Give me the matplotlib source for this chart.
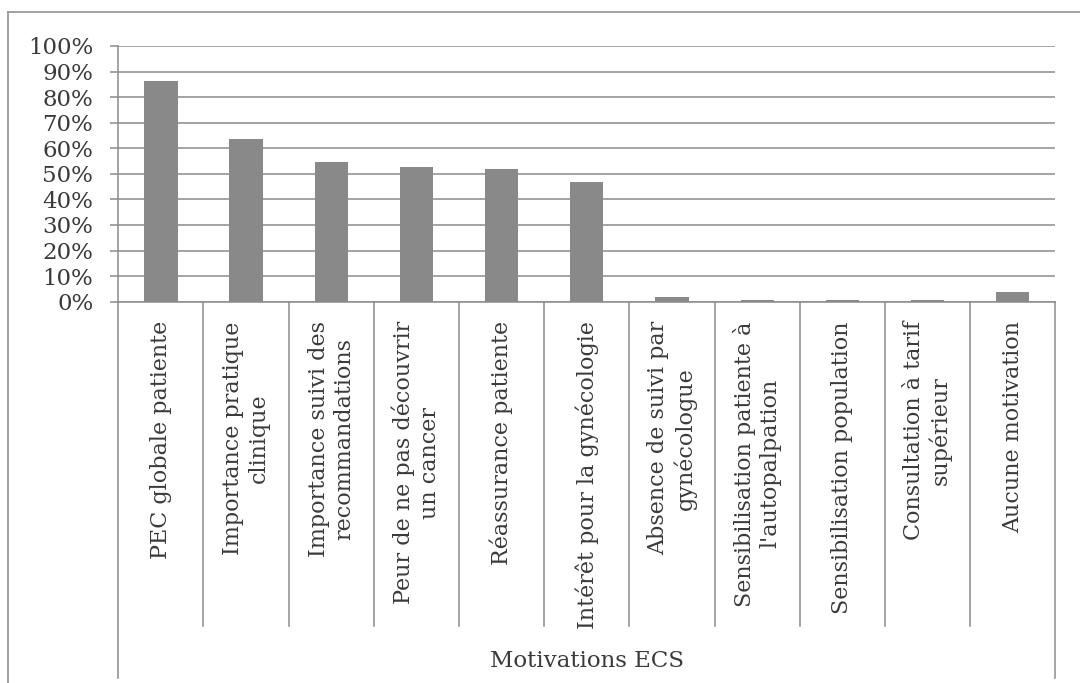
import matplotlib
matplotlib.use("Agg")
import matplotlib.pyplot as plt
import matplotlib.transforms as mtransforms
from matplotlib.lines import Line2D

categories = [
    "PEC globale patiente",
    "Importance pratique\nclinique",
    "Importance suivi des\nrecommandations",
    "Peur de ne pas découvrir\nun cancer",
    "Réassurance patiente",
    "Intérêt pour la gynécologie",
    "Absence de suivi par\ngynécologue",
    "Sensibilisation patiente à\nl'autopalpation",
    "Sensibilisation population",
    "Consultation à tarif\nsupérieur",
    "Aucune motivation",
]
values = [86.2, 63.8, 54.5, 52.6, 52.0, 46.7, 2.0, 0.6, 0.6, 0.6, 3.9]
yticks = list(range(0, 101, 10))
group_label = "Motivations ECS"

W, H = 1080, 683
line_col = "#8c8c8c"
text_col = "#3a3a3a"
font = ["DejaVu Serif"]

fig = plt.figure(figsize=(W / 100, H / 100), dpi=100)
ax = fig.add_axes([118.3 / W, 1 - 301.7 / H, (1055.3 - 118.3) / W, (301.7 - 46) / H])

x = list(range(len(categories)))
ax.bar(x, values, width=0.39, color="#898989", zorder=3)

ax.set_xlim(-0.5, len(categories) - 0.5)
ax.set_ylim(0, 100)
ax.set_yticks(yticks)
ax.set_yticklabels([f"{t}%" for t in yticks], family=font, fontsize=16.5, color=text_col)
ax.yaxis.grid(True, color=line_col, linewidth=1.1, zorder=0)
ax.tick_params(axis="y", length=6, width=1.1, color=line_col, pad=12)

ax.set_xticks(x)
ax.set_xticklabels(categories, rotation=90, family=font, fontsize=16,
                   color=text_col, ha="center", va="top")
ax.tick_params(axis="x", length=0, pad=14)

for side in ["top", "right"]:
    ax.spines[side].set_visible(False)
for side in ["left", "bottom"]:
    ax.spines[side].set_color(line_col)
    ax.spines[side].set_linewidth(1.1)

# category separators below the axis
trans = mtransforms.blended_transform_factory(ax.transData, fig.transFigure)
y_axis = 1 - 301.7 / H
y_inner = 1 - 625.5 / H
y_outer = 1 - 678 / H
n = len(categories)
for i in range(n + 1):
    xb = i - 0.5
    y_end = y_outer if i in (0, n) else y_inner
    fig.add_artist(Line2D([xb, xb], [y_axis, y_end], transform=trans,
                          color=line_col, linewidth=1.1))

fig.text(587 / W, 1 - 661 / H, group_label, family=font, fontsize=16.5,
         color=text_col, ha="center", va="center")

# outer chart frame
fig.add_artist(Line2D([8 / W, 8 / W], [1 - 11.7 / H, -0.05], transform=fig.transFigure,
                      color="#9a9a9a", linewidth=1.3))
fig.add_artist(Line2D([8 / W, 1.05], [1 - 11.7 / H, 1 - 11.7 / H], transform=fig.transFigure,
                      color="#9a9a9a", linewidth=1.3))

fig.savefig("out.png", dpi=100, facecolor="white")
